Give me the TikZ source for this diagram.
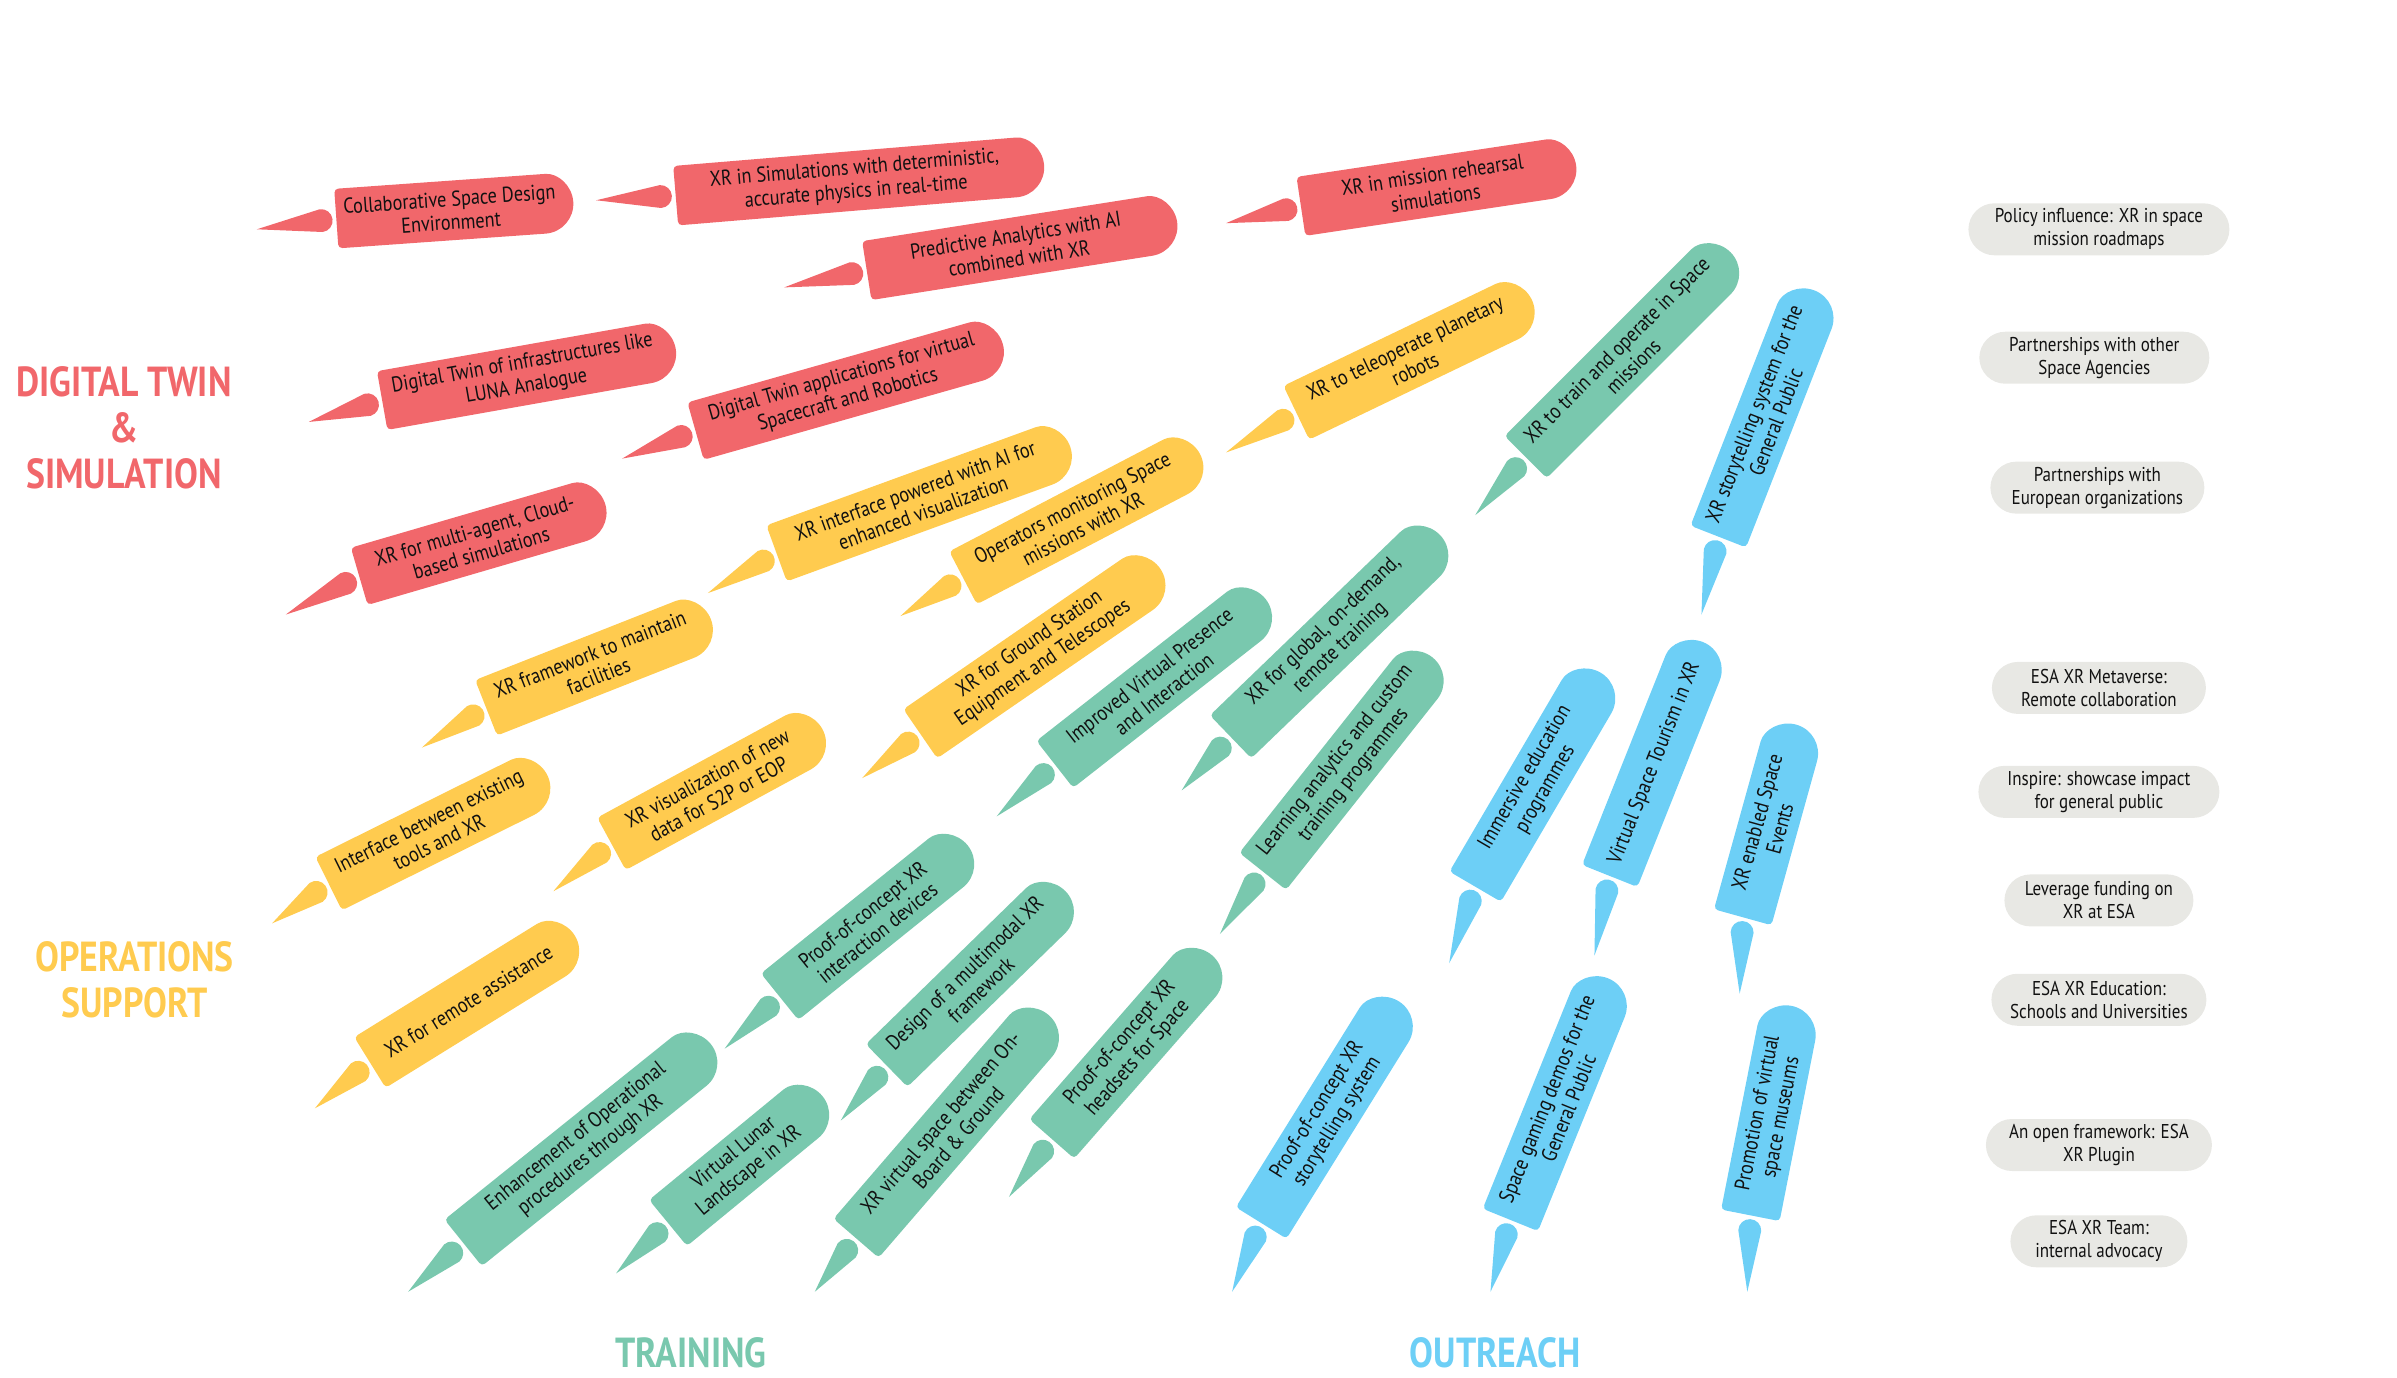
\documentclass[tikz,border=0pt]{standalone}
\usepackage{fontspec}
\setmainfont{PT Sans}
\newfontfamily\cfont[FakeStretch=0.85]{PT Sans}
\usetikzlibrary{shapes.misc}
\definecolor{cred}{HTML}{F1676B}
\definecolor{cyel}{HTML}{FFCB4F}
\definecolor{cgrn}{HTML}{79C8AE}
\definecolor{cblu}{HTML}{6DCFF6}
\definecolor{cgry}{HTML}{E8E8E4}
\definecolor{ctxt}{HTML}{111111}
\newcommand\myhh{19.5}
% #1 name, #2 colour, #3 #4 box left end, #5 #6 box right end, #7 #8 tail tip, #9 text
\newcommand\itm[9]{%
  \pgfmathsetmacro\myang{atan2(#4-#6,#5-#3)}%
  \pgfmathsetmacro\mylen{veclen(#5-#3,#6-#4)}%
  \pgfmathsetmacro\mytang{atan2(#4-#8,#7-#3)}%
  \pgfmathsetmacro\mytlen{veclen(#7-#3,#8-#4)}%
  \begin{scope}[shift={(#3,-#4)},rotate=\myang]
    \fill[#2] (\mylen-\myhh,\myhh) arc[start angle=90,end angle=-90,radius=\myhh]
      [rounded corners=4] -- (0,-\myhh) -- (0,\myhh) -- cycle;
    \node[itemtext] (#1) at ({\mylen/2-3},0) {#9};
  \end{scope}
  \begin{scope}[shift={(#3,-#4)},rotate=\mytang]
    \fill[#2] (\mytlen,0) -- (10,7.5) arc[start angle=90,end angle=270,radius=7.5] -- cycle;
  \end{scope}}
\begin{document}
\begin{tikzpicture}[x=1.5287pt,y=1.5287pt,
  itemtext/.style={text=ctxt,font=\cfont\fontsize{21.5}{23.5}\selectfont,align=center,transform shape,inner sep=0pt},
  pill/.style={rounded rectangle,fill=cgry,text=ctxt,font=\cfont\fontsize{20}{23}\selectfont,align=center,minimum height=52pt,inner xsep=4pt,inner ysep=2pt},
  title/.style={font=\cfont\bfseries\fontsize{42}{46}\selectfont,align=center,inner sep=0pt}]
\useasboundingbox (0,0) rectangle (1568,-901);
% titles
\node[title,text=cred] (dt) at (81,-280) {DIGITAL TWIN\\\&\\SIMULATION};
\node[title,text=cyel] (ops) at (88,-641) {OPERATIONS\\SUPPORT};
\node[title,text=cgrn] (trn) at (452,-885) {TRAINING};
\node[title,text=cblu] (out) at (978,-885) {OUTREACH};
% red
\itm{r1}{cred}{220}{143}{375}{132}{168}{150}{Collaborative Space Design\\Environment}
\itm{r2}{cred}{442}{128}{683}{108}{390}{131}{XR in Simulations with deterministic,\\accurate physics in real-time}
\itm{r3}{cred}{567}{177}{770}{145}{513}{188}{Predictive Analytics with AI\\combined with XR}
\itm{r4}{cred}{851}{135}{1031}{108}{802}{146}{XR in mission rehearsal\\simulations}
\itm{r5}{cred}{250}{262}{442}{228}{202}{276}{Digital Twin of infrastructures like\\LUNA Analogue}
\itm{r6}{cred}{455}{282}{656}{225}{407}{300}{Digital Twin applications for virtual\\Spacecraft and Robotics}
\itm{r7}{cred}{235}{377}{396}{330}{187}{402}{XR for multi-agent, Cloud-\\based simulations}
% yellow
\itm{y1}{cyel}{508}{362}{700}{292}{463}{388}{XR interface powered with AI for\\enhanced visualization}
\itm{y2}{cyel}{848}{270}{1002}{196}{802}{296}{XR to teleoperate planetary\\robots}
\itm{y3}{cyel}{630}{378}{785}{297}{589}{403}{Operators monitoring Space\\missions with XR}
\itm{y4}{cyel}{318}{463}{465}{405}{276}{489}{XR framework to maintain\\facilities}
\itm{y5}{cyel}{602}{480}{759}{372}{564}{509}{XR for Ground Station\\Equipment and Telescopes}
\itm{y6}{cyel}{215}{578}{358}{507}{178}{604}{Interface between existing\\tools and XR}
\itm{y7}{cyel}{400}{552}{538}{477}{362}{583}{XR visualization of new\\data for S2P or EOP}
\itm{y8}{cyel}{242}{695}{376}{612}{206}{725}{XR for remote assistance}
% green
\itm{g1}{cgrn}{998}{299}{1132}{165}{965}{337}{XR to train and operate in Space\\missions}
\itm{g2}{cgrn}{690}{500}{828}{392}{652}{534}{Improved Virtual Presence\\and Interaction}
\itm{g3}{cgrn}{805}{482}{942}{350}{773}{517}{XR for global, on-demand,\\remote training}
\itm{g4}{cgrn}{826}{570}{937}{430}{798}{611}{Learning analytics and custom\\training programmes}
\itm{g5}{cgrn}{510}{652}{633}{553}{474}{686}{Proof-of-concept XR\\interaction devices}
\itm{g6}{cgrn}{580}{697}{697}{583}{550}{733}{Design of a multimodal XR\\framework}
\itm{g7}{cgrn}{303}{813}{465}{683}{267}{845}{Enhancement of Operational\\procedures through XR}
\itm{g8}{cgrn}{437}{800}{538}{717}{403}{833}{Virtual Lunar\\Landscape in XR}
\itm{g9}{cgrn}{560}{810}{686}{664}{533}{845}{XR virtual space between On-\\Board \& Ground}
\itm{g10}{cgrn}{688}{745}{793}{625}{660}{783}{Proof-of-concept XR\\headsets for Space}
% blue
\itm{b1}{cblu}{1124}{351}{1187}{190}{1113}{402}{XR storytelling system for the\\General Public}
\itm{b2}{cblu}{965}{580}{1047}{440}{948}{630}{Immersive education\\programmes}
\itm{b3}{cblu}{1053}{573}{1114}{420}{1043}{625}{Virtual Space Tourism in XR}
\itm{b4}{cblu}{1140}{600}{1175}{474}{1138}{650}{XR enabled Space\\Events}
\itm{b5}{cblu}{825}{800}{915}{655}{806}{845}{Proof-of-concept XR\\storytelling system}
\itm{b6}{cblu}{988}{798}{1052}{640}{975}{845}{Space gaming demos for the\\General Public}
\itm{b7}{cblu}{1145}{795}{1172}{658}{1143}{845}{Promotion of virtual\\space museums}
% grey labels
\node[pill,minimum width=269pt] (p1) at (1373,-150) {Policy influence: XR in space\\mission roadmaps};
\node[pill,minimum width=238pt] (p2) at (1370,-234) {Partnerships with other\\Space Agencies};
\node[pill,minimum width=222pt] (p3) at (1372,-319) {Partnerships with\\European organizations};
\node[pill,minimum width=222pt] (p4) at (1373,-450) {ESA XR Metaverse:\\Remote collaboration};
\node[pill,minimum width=249pt] (p5) at (1373,-518) {Inspire: showcase impact\\for general public};
\node[pill,minimum width=197pt] (p6) at (1373,-589) {Leverage funding on\\XR at ESA};
\node[pill,minimum width=223pt] (p7) at (1373,-654) {ESA XR Education:\\Schools and Universities};
\node[pill,minimum width=234pt] (p8) at (1373,-749) {An open framework: ESA\\XR Plugin};
\node[pill,minimum width=185pt] (p9) at (1373,-812) {ESA XR Team:\\internal advocacy};
\end{tikzpicture}
\end{document}
